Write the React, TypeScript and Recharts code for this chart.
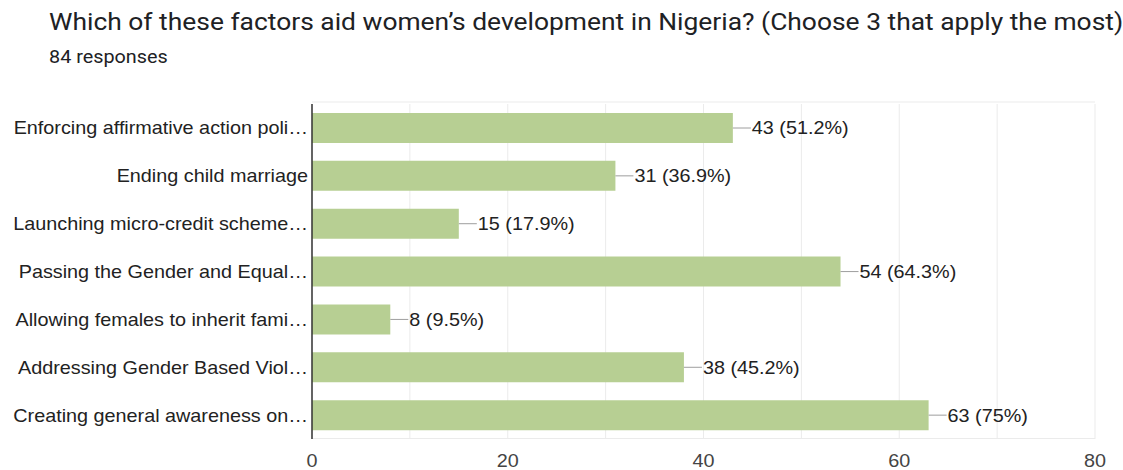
import React from "react";
import { BarChart, Bar, XAxis, YAxis, CartesianGrid, LabelList } from "recharts";

const factors = [
  "Enforcing affirmative action poli…",
  "Ending child marriage",
  "Launching micro-credit scheme…",
  "Passing the Gender and Equal…",
  "Allowing females to inherit fami…",
  "Addressing Gender Based Viol…",
  "Creating general awareness on…",
];
const counts = [43, 31, 15, 54, 8, 38, 63];
const totalResponses = 84;
const xTicks = [0, 10, 20, 30, 40, 50, 60, 70, 80];

const rows = factors.map((name, i) => ({ name, count: counts[i] }));

const W = 1123;
const H = 470;
const PLOT_TOP = 104;
const PLOT_BOTTOM = 439;
const PLOT_LEFT = 312;
const PLOT_RIGHT = 1095;
const X_AXIS_H = 30;
const CHART_FONT = "Arial, 'Liberation Sans', sans-serif";
// text in this chart is drawn slightly wide
const STRETCH = 1.1;

function pct(v: number) {
  const p = Math.round((v / totalResponses) * 1000) / 10;
  return `${p}%`;
}

function ValueLabel(props: any) {
  const { x, y, width, height, value } = props;
  const x0 = Number(x) + Number(width);
  const cy = Number(y) + Number(height) / 2;
  return (
    <g>
      <line x1={x0} y1={cy} x2={x0 + 18} y2={cy} stroke="#9e9e9e" strokeWidth={1} />
      <g transform={`translate(${x0 + 19},${cy})`}>
        <text
          transform={`scale(${STRETCH},1)`}
          dy="0.36em"
          fontSize={18}
          fontFamily={CHART_FONT}
          fill="#222"
        >
          {`${value} (${pct(value)})`}
        </text>
      </g>
    </g>
  );
}

function CategoryTick(props: any) {
  const { x, y, payload } = props;
  return (
    <g transform={`translate(${x},${y})`}>
      <text
        transform={`scale(${STRETCH},1)`}
        textAnchor="end"
        dy="0.36em"
        fontSize={18}
        fontFamily={CHART_FONT}
        fill="#222"
      >
        {payload.value}
      </text>
    </g>
  );
}

function CountTick(props: any) {
  const { x, y, payload } = props;
  if (payload.value % 20 !== 0) return null;
  return (
    <g transform={`translate(${x},${y})`}>
      <text
        transform={`scale(${STRETCH},1)`}
        textAnchor="middle"
        dy="0.71em"
        fontSize={18}
        fontFamily={CHART_FONT}
        fill="#444"
      >
        {payload.value}
      </text>
    </g>
  );
}

const headStyle: React.CSSProperties = {
  position: "absolute",
  left: 49,
  fontFamily: "Roboto, sans-serif",
  color: "#202124",
  whiteSpace: "nowrap",
  lineHeight: "normal",
  transform: `scaleX(${STRETCH})`,
  transformOrigin: "left top",
};

export default function App() {
  return (
    <div
      style={{
        position: "absolute",
        left: 0,
        top: 0,
        width: W,
        height: H,
        background: "#fff",
        overflow: "hidden",
      }}
    >
      <div style={{ ...headStyle, top: 8, fontSize: 24 }}>
        Which of these factors aid women’s development in Nigeria? (Choose 3 that apply the most)
      </div>
      <div style={{ ...headStyle, top: 46, fontSize: 18 }}>{totalResponses} responses</div>
      <BarChart
        width={W}
        height={H}
        data={rows}
        layout="vertical"
        margin={{
          top: PLOT_TOP,
          bottom: H - PLOT_BOTTOM - X_AXIS_H,
          left: 0,
          right: W - PLOT_RIGHT,
        }}
        style={{ position: "absolute", left: 0, top: 0 }}
      >
        <CartesianGrid
          stroke="#ebebeb"
          strokeWidth={1}
          horizontalPoints={[PLOT_TOP - 2, PLOT_BOTTOM - 0.5]}
        />
        <XAxis
          type="number"
          domain={[0, 80]}
          ticks={xTicks}
          interval={0}
          height={X_AXIS_H}
          axisLine={false}
          tickLine={false}
          tickSize={0}
          tickMargin={15}
          tick={<CountTick />}
        />
        <YAxis
          type="category"
          dataKey="name"
          width={PLOT_LEFT}
          interval={0}
          axisLine={{ stroke: "#333", strokeWidth: 1.5 }}
          tickLine={false}
          tickSize={0}
          tickMargin={4}
          tick={<CategoryTick />}
        />
        <Bar dataKey="count" fill="#b7cf93" barSize={30} isAnimationActive={false}>
          <LabelList dataKey="count" content={<ValueLabel />} />
        </Bar>
      </BarChart>
    </div>
  );
}
